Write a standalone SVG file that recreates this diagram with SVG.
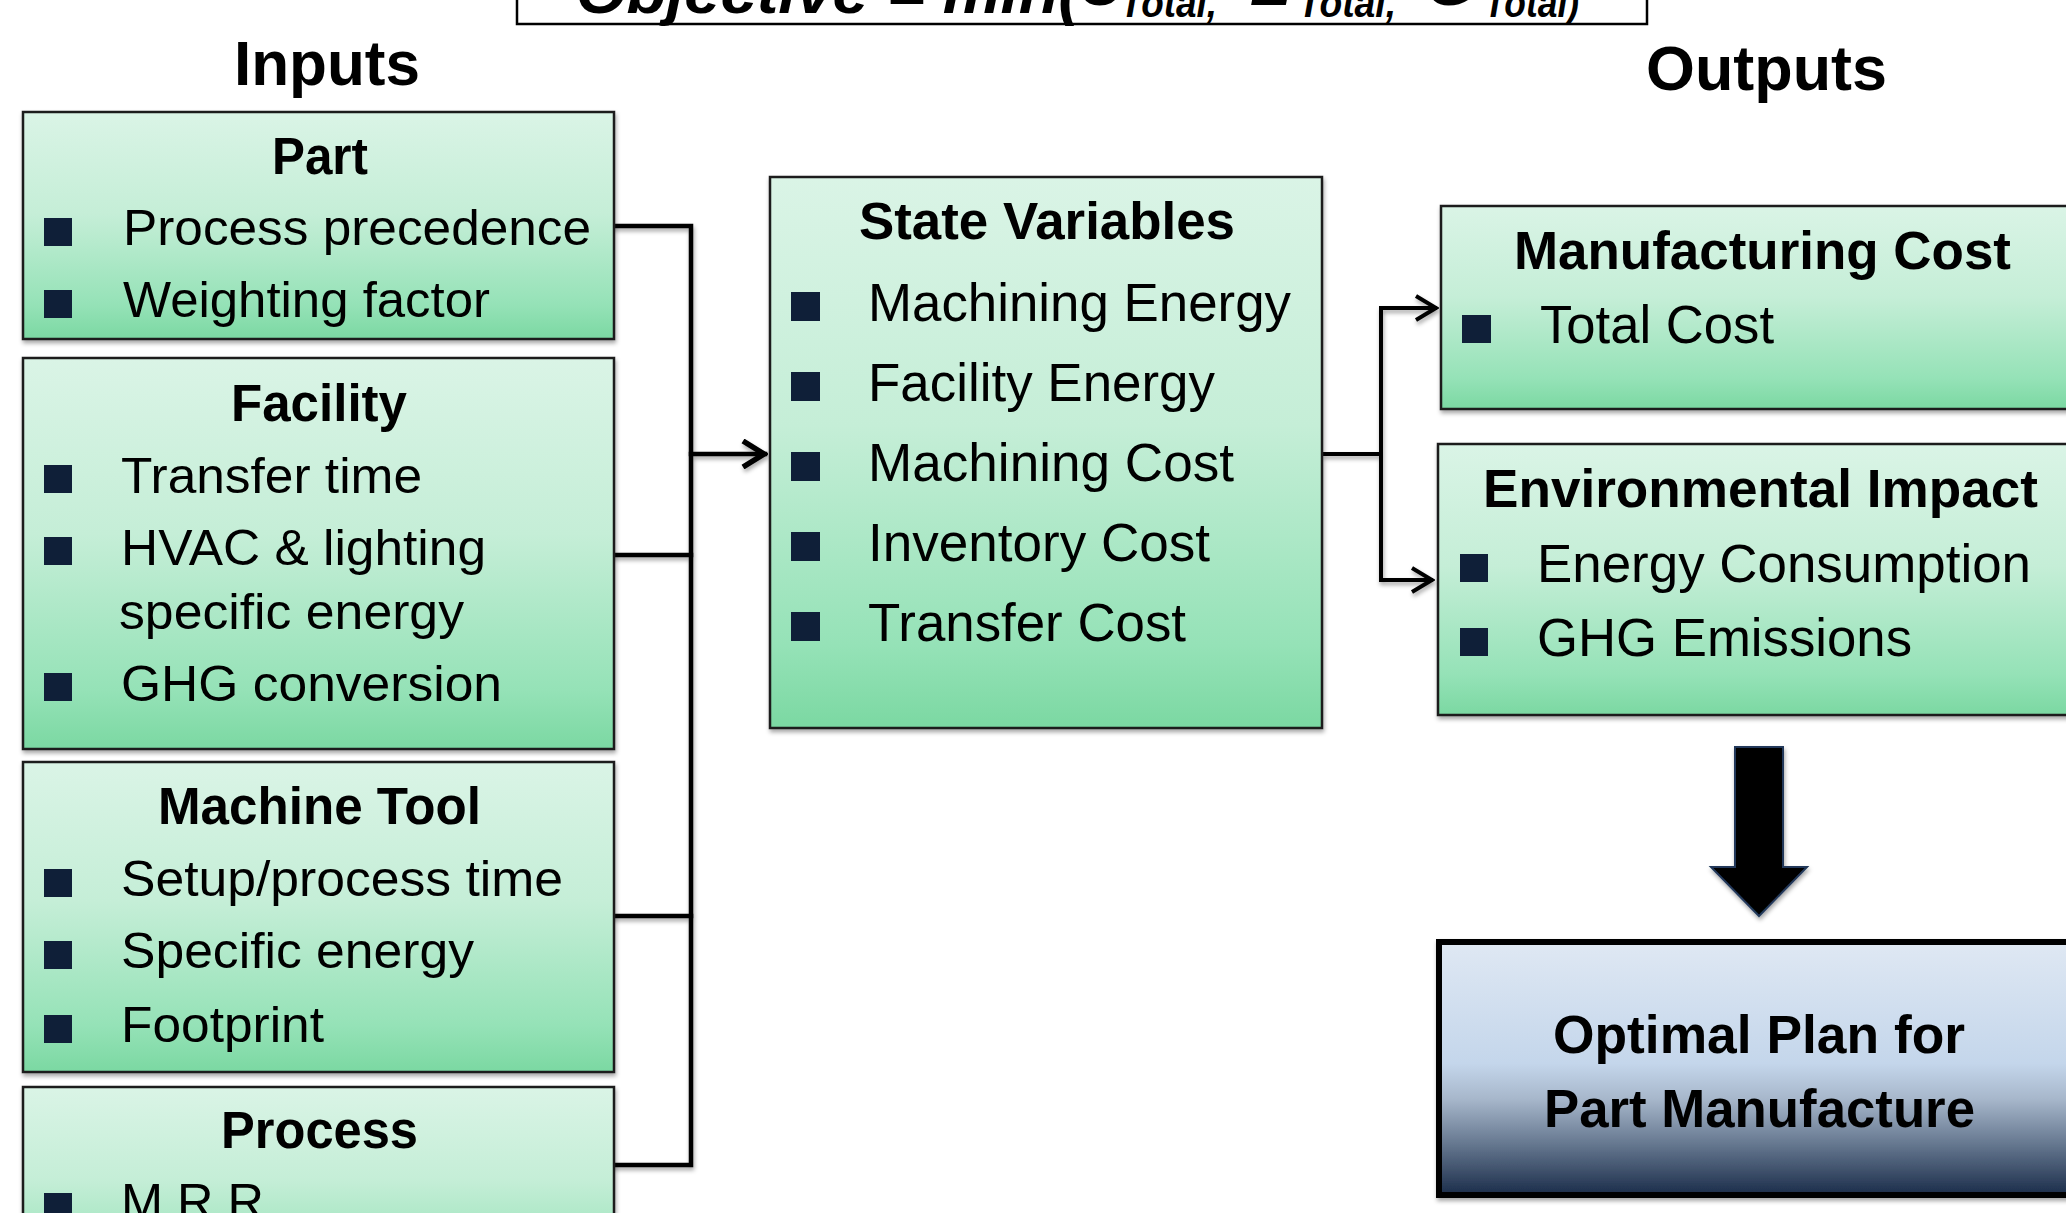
<svg xmlns="http://www.w3.org/2000/svg" width="2066" height="1213" viewBox="0 0 2066 1213">
<style>
  text { font-family: "Liberation Sans", Arial, Helvetica, sans-serif; fill: #000; }
  .hd { font-weight: bold; font-size: 63px; }
  .ti { font-weight: bold; font-size: 51px; }
  .ti2 { font-weight: bold; font-size: 53px; }
  .it { font-size: 50px; }
  .it2 { font-size: 53px; }
  .obj { font-weight: bold; font-style: italic; font-size: 62px; }
  .sub { font-weight: bold; font-style: italic; font-size: 40px; }
  .box { fill: url(#gg); stroke: #1a1a1a; stroke-width: 2.5; }
  .blt { fill: #0f1f38; }
  .ln { fill: none; stroke: #000; stroke-width: 4.5; stroke-linejoin: miter; stroke-linecap: square; }
  .ln2 { fill: none; stroke: #000; stroke-width: 4; stroke-linejoin: miter; }
</style>
<defs>
  <linearGradient id="gg" x1="0" y1="0" x2="0" y2="1">
    <stop offset="0" stop-color="#daf4e6"/>
    <stop offset="0.45" stop-color="#c5eed7"/>
    <stop offset="0.85" stop-color="#95e2b7"/>
    <stop offset="1" stop-color="#7bd8a2"/>
  </linearGradient>
  <linearGradient id="gb" x1="0" y1="0" x2="0" y2="1">
    <stop offset="0" stop-color="#dfe8f3"/>
    <stop offset="0.48" stop-color="#c4d6eb"/>
    <stop offset="0.62" stop-color="#a7b7cb"/>
    <stop offset="0.8" stop-color="#65778f"/>
    <stop offset="1" stop-color="#1b2d4a"/>
  </linearGradient>
  <filter id="sh" filterUnits="userSpaceOnUse" x="0" y="0" width="2066" height="1213">
    <feDropShadow dx="1" dy="3" stdDeviation="2" flood-color="#000" flood-opacity="0.35"/>
  </filter>
  <marker id="chev" markerUnits="userSpaceOnUse" viewBox="0 0 28 30" refX="25" refY="15" markerWidth="28" markerHeight="30" orient="auto">
    <path d="M3,2 L24,15 L3,28" fill="none" stroke="#000" stroke-width="5.5"/>
  </marker>
  <marker id="chev2" markerUnits="userSpaceOnUse" viewBox="0 0 26 28" refX="24" refY="14" markerWidth="26" markerHeight="28" orient="auto">
    <path d="M3,2 L23,14 L3,26" fill="none" stroke="#000" stroke-width="4"/>
  </marker>
</defs>

<g id="objective">
  <rect x="517" y="-10" width="1130" height="34" fill="#fff" stroke="#000" stroke-width="2.5"/>
  <text class="obj" x="576" y="13" textLength="504" lengthAdjust="spacingAndGlyphs">Objective = min(</text>
  <text class="obj" x="1078" y="5">C</text>
  <text class="sub" x="1120" y="17" textLength="97" lengthAdjust="spacingAndGlyphs">Total,</text>
  <text class="obj" x="1250" y="5">E</text>
  <text class="sub" x="1298" y="17" textLength="98" lengthAdjust="spacingAndGlyphs">Total,</text>
  <text class="obj" x="1426" y="5">G</text>
  <text class="sub" x="1484" y="17" textLength="95" lengthAdjust="spacingAndGlyphs">Total)</text>
</g>

<g id="headings">
  <text class="hd" x="234" y="85" textLength="186" lengthAdjust="spacingAndGlyphs">Inputs</text>
  <text class="hd" x="1646" y="90" textLength="241" lengthAdjust="spacingAndGlyphs">Outputs</text>
</g>

<g id="connectors" filter="url(#sh)">
  <path class="ln" d="M614,226 H691 V1165 H614"/>
  <path class="ln" d="M614,555 H691"/>
  <path class="ln" d="M614,916 H691"/>
  <path class="ln" d="M691,454 H765" stroke-width="6" marker-end="url(#chev)"/>
  <path class="ln2" d="M1322,454 H1381"/>
  <path class="ln2" d="M1436,308 H1381 V580 H1432"/>
  <path class="ln2" d="M1381,308 H1437" marker-end="url(#chev2)"/>
  <path class="ln2" d="M1381,580 H1433" marker-end="url(#chev2)"/>
  <path d="M1735,747 H1783 V867 H1807 L1759,916 L1711,867 H1735 Z" fill="#000" stroke="#22385a" stroke-width="2"/>
</g>

<g id="part">
  <rect class="box" x="23" y="112" width="591" height="227" filter="url(#sh)"/>
  <text class="ti" x="272" y="174" textLength="96" lengthAdjust="spacingAndGlyphs">Part</text>
  <rect class="blt" x="44" y="218" width="28" height="28"/>
  <text class="it" x="123" y="245" textLength="468" lengthAdjust="spacingAndGlyphs">Process precedence</text>
  <rect class="blt" x="44" y="290" width="28" height="28"/>
  <text class="it" x="123" y="317" textLength="367" lengthAdjust="spacingAndGlyphs">Weighting factor</text>
</g>

<g id="facility">
  <rect class="box" x="23" y="358" width="591" height="391" filter="url(#sh)"/>
  <text class="ti" x="231" y="421" textLength="176" lengthAdjust="spacingAndGlyphs">Facility</text>
  <rect class="blt" x="44" y="465" width="28" height="28"/>
  <text class="it" x="121" y="493" textLength="301" lengthAdjust="spacingAndGlyphs">Transfer time</text>
  <rect class="blt" x="44" y="537" width="28" height="28"/>
  <text class="it" x="121" y="565" textLength="365" lengthAdjust="spacingAndGlyphs">HVAC &amp; lighting</text>
  <text class="it" x="119" y="629" textLength="345" lengthAdjust="spacingAndGlyphs">specific energy</text>
  <rect class="blt" x="44" y="673" width="28" height="28"/>
  <text class="it" x="121" y="701" textLength="381" lengthAdjust="spacingAndGlyphs">GHG conversion</text>
</g>

<g id="machine-tool">
  <rect class="box" x="23" y="762" width="591" height="310" filter="url(#sh)"/>
  <text class="ti" x="158" y="824" textLength="323" lengthAdjust="spacingAndGlyphs">Machine Tool</text>
  <rect class="blt" x="44" y="869" width="28" height="28"/>
  <text class="it" x="121" y="896" textLength="442" lengthAdjust="spacingAndGlyphs">Setup/process time</text>
  <rect class="blt" x="44" y="941" width="28" height="28"/>
  <text class="it" x="121" y="968" textLength="353" lengthAdjust="spacingAndGlyphs">Specific energy</text>
  <rect class="blt" x="44" y="1015" width="28" height="28"/>
  <text class="it" x="121" y="1042" textLength="203" lengthAdjust="spacingAndGlyphs">Footprint</text>
</g>

<g id="process">
  <rect class="box" x="23" y="1087" width="591" height="205" filter="url(#sh)"/>
  <text class="ti" x="221" y="1148" textLength="197" lengthAdjust="spacingAndGlyphs">Process</text>
  <rect class="blt" x="44" y="1193" width="28" height="28"/>
  <text class="it" x="121" y="1219" textLength="143" lengthAdjust="spacingAndGlyphs">M R R</text>
</g>

<g id="state-variables">
  <rect class="box" x="770" y="177" width="552" height="551" filter="url(#sh)"/>
  <text class="ti" x="859" y="239" textLength="376" lengthAdjust="spacingAndGlyphs">State Variables</text>
  <rect class="blt" x="791" y="292" width="29" height="29"/>
  <text class="it2" x="868" y="321" textLength="423" lengthAdjust="spacingAndGlyphs">Machining Energy</text>
  <rect class="blt" x="791" y="372" width="29" height="29"/>
  <text class="it2" x="868" y="401" textLength="347" lengthAdjust="spacingAndGlyphs">Facility Energy</text>
  <rect class="blt" x="791" y="452" width="29" height="29"/>
  <text class="it2" x="868" y="481" textLength="366" lengthAdjust="spacingAndGlyphs">Machining Cost</text>
  <rect class="blt" x="791" y="532" width="29" height="29"/>
  <text class="it2" x="868" y="561" textLength="342" lengthAdjust="spacingAndGlyphs">Inventory Cost</text>
  <rect class="blt" x="791" y="612" width="29" height="29"/>
  <text class="it2" x="868" y="641" textLength="318" lengthAdjust="spacingAndGlyphs">Transfer Cost</text>
</g>

<g id="manufacturing-cost">
  <rect class="box" x="1441" y="206" width="640" height="203" filter="url(#sh)"/>
  <text class="ti2" x="1514" y="269" textLength="497" lengthAdjust="spacingAndGlyphs">Manufacturing Cost</text>
  <rect class="blt" x="1462" y="315" width="29" height="28"/>
  <text class="it2" x="1540" y="343" textLength="234" lengthAdjust="spacingAndGlyphs">Total Cost</text>
</g>

<g id="environmental-impact">
  <rect class="box" x="1438" y="444" width="642" height="271" filter="url(#sh)"/>
  <text class="ti2" x="1483" y="507" textLength="555" lengthAdjust="spacingAndGlyphs">Environmental Impact</text>
  <rect class="blt" x="1460" y="554" width="28" height="28"/>
  <text class="it2" x="1537" y="582" textLength="494" lengthAdjust="spacingAndGlyphs">Energy Consumption</text>
  <rect class="blt" x="1460" y="628" width="28" height="28"/>
  <text class="it2" x="1537" y="656" textLength="375" lengthAdjust="spacingAndGlyphs">GHG Emissions</text>
</g>

<g id="optimal-plan">
  <rect x="1439" y="942" width="645" height="253" fill="url(#gb)" stroke="#000" stroke-width="6" filter="url(#sh)"/>
  <text class="ti2" x="1553" y="1053" textLength="412" lengthAdjust="spacingAndGlyphs">Optimal Plan for</text>
  <text class="ti2" x="1544" y="1127" textLength="431" lengthAdjust="spacingAndGlyphs">Part Manufacture</text>
</g>
</svg>
